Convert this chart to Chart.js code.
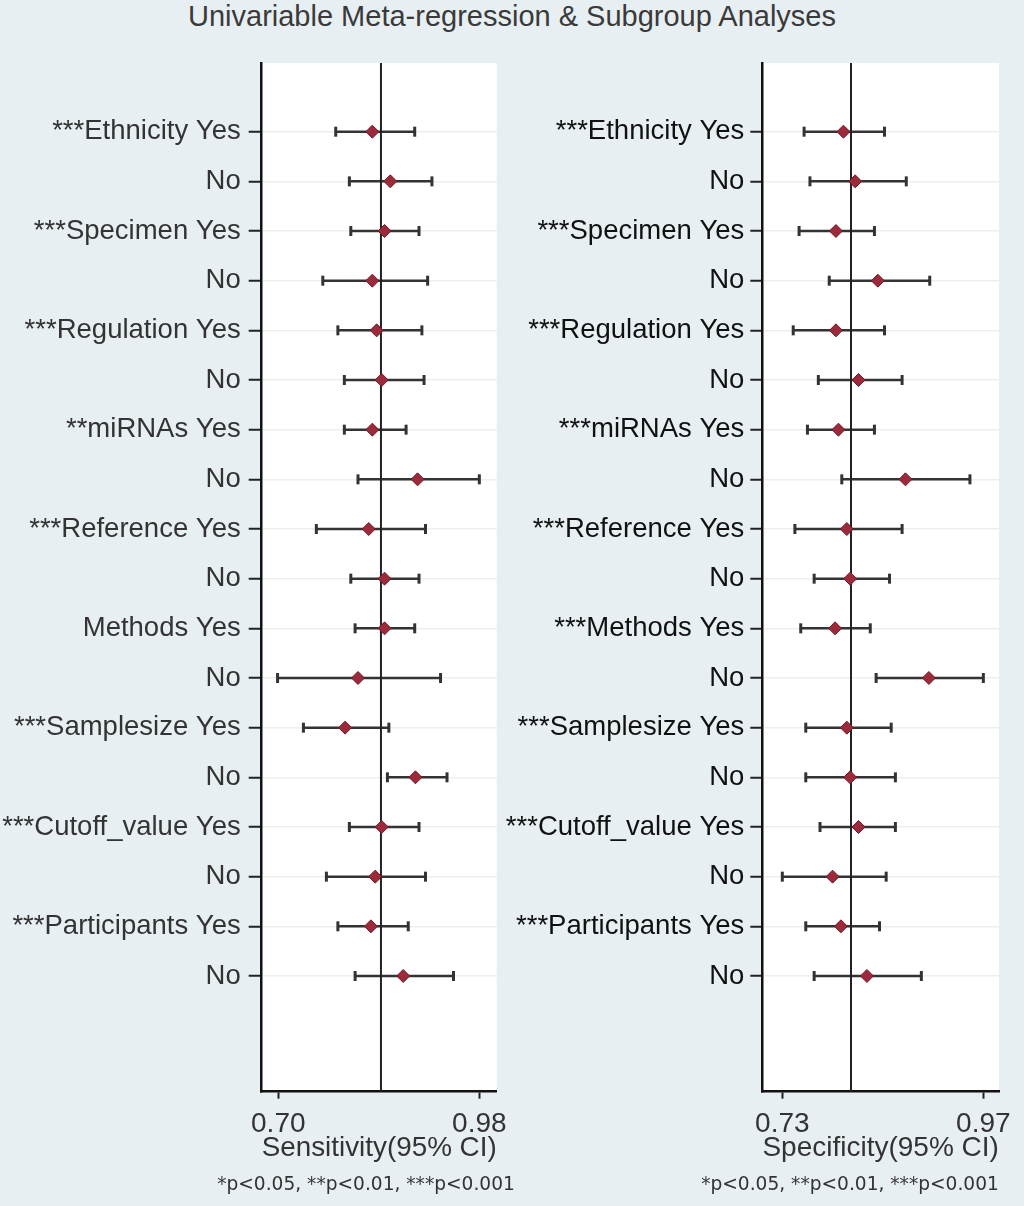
<!DOCTYPE html>
<html lang="en">
<head>
    <meta charset="UTF-8">
    <title>Univariable Meta-regression &amp; Subgroup Analyses</title>
    <script src="https://cdn.jsdelivr.net/npm/chart.js"></script>
    <style>
        body { margin: 0; background: #e8eff3; }
        #page { position: relative; width: 1024px; height: 1206px; overflow: hidden; font-family: 'Liberation Sans', Arial, sans-serif; }
        #title { position: absolute; left: 0; top: 0; width: 1024px; text-align: center; font-size: 29px; line-height: 32px; color: #3a3a3a; }
        .panel { position: absolute; top: 0; }
        .note { position: absolute; top: 1172px; width: 340px; text-align: center; font-family: 'DejaVu Sans', sans-serif; font-size: 18.6px; line-height: 24px; color: #333; }
    </style>
</head>
<body>
<div id="page">
    <div id="title">Univariable Meta-regression &amp; Subgroup Analyses</div>
    <canvas id="sensChart" class="panel" style="left:0" width="512" height="1206"></canvas>
    <canvas id="specChart" class="panel" style="left:490px" width="534" height="1206"></canvas>
    <div class="note" style="left:196px">*p&lt;0.05, **p&lt;0.01, ***p&lt;0.001</div>
    <div class="note" style="left:680px">*p&lt;0.05, **p&lt;0.01, ***p&lt;0.001</div>
</div>
<script>
    // row labels, top to bottom
    const sensLabels = ['***Ethnicity Yes', 'No', '***Specimen Yes', 'No', '***Regulation Yes', 'No',
        '**miRNAs Yes', 'No', '***Reference Yes', 'No', 'Methods Yes', 'No',
        '***Samplesize Yes', 'No', '***Cutoff_value Yes', 'No', '***Participants Yes', 'No'];
    const specLabels = ['***Ethnicity Yes', 'No', '***Specimen Yes', 'No', '***Regulation Yes', 'No',
        '***miRNAs Yes', 'No', '***Reference Yes', 'No', '***Methods Yes', 'No',
        '***Samplesize Yes', 'No', '***Cutoff_value Yes', 'No', '***Participants Yes', 'No'];

    // sensitivity estimates and 95% CI
    const sensEst  = [0.831, 0.856, 0.848, 0.831, 0.837, 0.844, 0.831, 0.894, 0.826,
                      0.848, 0.848, 0.811, 0.793, 0.891, 0.844, 0.835, 0.829, 0.874];
    const sensLow  = [0.780, 0.799, 0.801, 0.762, 0.783, 0.792, 0.792, 0.811, 0.753,
                      0.801, 0.807, 0.699, 0.735, 0.852, 0.799, 0.767, 0.783, 0.807];
    const sensHigh = [0.890, 0.914, 0.896, 0.908, 0.900, 0.903, 0.878, 0.980, 0.905,
                      0.896, 0.890, 0.926, 0.854, 0.935, 0.896, 0.905, 0.881, 0.944];

    // specificity estimates and 95% CI
    const specEst  = [0.803, 0.817, 0.794, 0.844, 0.794, 0.821, 0.797, 0.877, 0.807,
                      0.811, 0.793, 0.905, 0.807, 0.811, 0.821, 0.790, 0.800, 0.831];
    const specLow  = [0.756, 0.763, 0.750, 0.786, 0.743, 0.773, 0.760, 0.801, 0.745,
                      0.768, 0.752, 0.842, 0.758, 0.758, 0.775, 0.730, 0.758, 0.768];
    const specHigh = [0.852, 0.878, 0.840, 0.906, 0.852, 0.873, 0.840, 0.954, 0.873,
                      0.858, 0.835, 0.970, 0.860, 0.865, 0.865, 0.854, 0.846, 0.896];

    const sensTicks = [0.70, 0.98];
    const specTicks = [0.73, 0.97];
    const sensPooled = 0.843;
    const specPooled = 0.812;

    const Y_MIN = -0.383, Y_MAX = 20.33;
    const FONT = "'Liberation Sans', Arial, sans-serif";

    function makePanel(id, p) {
        const rows = p.labels.map((_, i) => i + 1);

        const plotBg = {
            id: 'plotBg',
            beforeDraw(chart) {
                const a = chart.chartArea;
                chart.ctx.save();
                chart.ctx.fillStyle = '#ffffff';
                chart.ctx.fillRect(a.left, a.top, a.right - a.left, a.bottom - a.top);
                chart.ctx.restore();
            }
        };

        // CI whiskers with end caps
        const ciBars = {
            id: 'ciBars',
            beforeDatasetsDraw(chart) {
                const { ctx, scales: { x, y } } = chart;
                ctx.save();
                ctx.strokeStyle = '#333';
                p.low.forEach((lo, i) => {
                    const py = y.getPixelForValue(rows[i]);
                    const x0 = x.getPixelForValue(lo);
                    const x1 = x.getPixelForValue(p.high[i]);
                    ctx.lineWidth = 2.5;
                    ctx.beginPath();
                    ctx.moveTo(x0, py);
                    ctx.lineTo(x1, py);
                    ctx.stroke();
                    ctx.lineWidth = 3;
                    [x0, x1].forEach(px => {
                        ctx.beginPath();
                        ctx.moveTo(px, py - 5);
                        ctx.lineTo(px, py + 5);
                        ctx.stroke();
                    });
                });
                ctx.restore();
            }
        };

        return new Chart(document.getElementById(id), {
            type: 'scatter',
            data: {
                datasets: [
                    {
                        data: p.est.map((v, i) => ({ x: v, y: rows[i] })),
                        pointStyle: 'rectRot',
                        pointRadius: 6.5,
                        pointBackgroundColor: '#9c2a3b',
                        pointBorderColor: '#6f1a26',
                        pointBorderWidth: 1,
                        order: 1
                    },
                    {
                        data: [{ x: p.pooled, y: Y_MIN }, { x: p.pooled, y: Y_MAX }],
                        showLine: true,
                        borderColor: '#222',
                        borderWidth: 2,
                        pointRadius: 0,
                        order: 2
                    }
                ]
            },
            options: {
                responsive: false,
                animation: false,
                layout: { padding: { top: 63, right: p.padRight, bottom: 0, left: 0 } },
                plugins: { legend: { display: false }, tooltip: { enabled: false } },
                scales: {
                    x: {
                        type: 'linear',
                        min: p.xMin,
                        max: p.xMax,
                        bounds: 'data',
                        afterBuildTicks: ax => { ax.ticks = p.ticks.map(v => ({ value: v })); },
                        afterFit: ax => { ax.height = 114.3; ax.paddingLeft = 0; ax.paddingRight = 0; },
                        ticks: {
                            autoSkip: false, maxRotation: 0, padding: 9, color: '#333',
                            font: { family: FONT, size: 28 },
                            callback: v => Number(v).toFixed(2)
                        },
                        grid: { drawOnChartArea: false, tickColor: '#222', tickWidth: 2, tickLength: 7 },
                        border: { color: '#111', width: 2.5 },
                        title: {
                            display: true, text: p.xTitle, color: '#333',
                            font: { family: FONT, size: 28 },
                            padding: { top: 0, bottom: 41 }
                        }
                    },
                    y: {
                        type: 'linear',
                        reverse: true,
                        min: Y_MIN,
                        max: Y_MAX,
                        bounds: 'data',
                        afterBuildTicks: ax => { ax.ticks = rows.map(v => ({ value: v })); },
                        afterFit: ax => { ax.width = p.axisWidth; },
                        ticks: {
                            autoSkip: false, padding: p.labelPad, color: p.labelColor,
                            font: { family: FONT, size: 27.5 },
                            callback: v => p.labels[Math.round(v) - 1]
                        },
                        grid: { color: '#eeeeee', lineWidth: 1.5, tickColor: '#222', tickWidth: 2, tickLength: p.tickLen },
                        border: { color: '#111', width: 2.5 }
                    }
                }
            },
            plugins: [plotBg, ciBars]
        });
    }

    makePanel('sensChart', {
        labels: sensLabels, est: sensEst, low: sensLow, high: sensHigh,
        ticks: sensTicks, pooled: sensPooled, xMin: 0.6769, xMax: 1.0042,
        xTitle: 'Sensitivity(95% CI)', axisWidth: 261.7, padRight: 15.3,
        labelPad: 8, tickLen: 13, labelColor: '#333'
    });

    makePanel('specChart', {
        labels: specLabels, est: specEst, low: specLow, high: specHigh,
        ticks: specTicks, pooled: specPooled, xMin: 0.7061, xMax: 0.9887,
        xTitle: 'Specificity(95% CI)', axisWidth: 272.3, padRight: 25,
        labelPad: 6, tickLen: 12, labelColor: '#111'
    });
</script>
</body>
</html>
